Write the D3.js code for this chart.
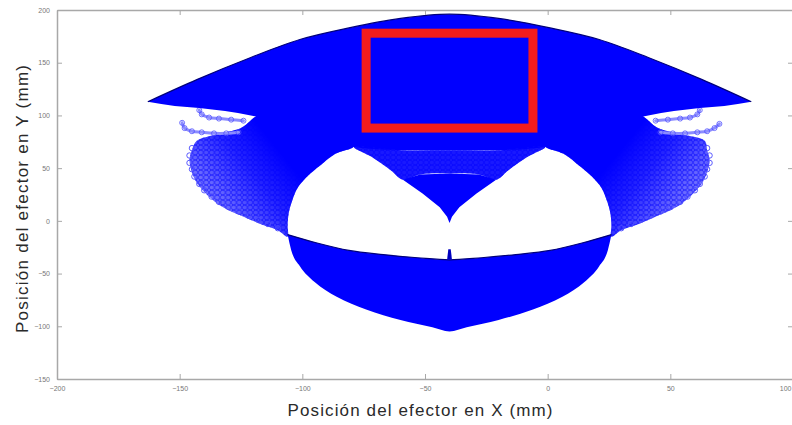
<!DOCTYPE html>
<html>
<head>
<meta charset="utf-8">
<script src="https://cdn.jsdelivr.net/npm/d3@7"></script>
<style>
  body { margin: 0; background: #fff; }
  svg { display: block; }
</style>
</head>
<body>
<svg id="chart" width="792" height="425"></svg>
<script>
// tick labels
var xTicks = [-200, -150, -100, -50, 0, 50, 100];
var yTicks = [-150, -100, -50, 0, 50, 100, 150, 200];

// workspace outline (mm)
var capTop = [[-163,113],[-143,134],[-121,155],[-101,172],[-81,183],[-60,192],[-40,196],[-20,192],[1,183],[21,172],[41,155],[63,134],[83,113]];
var capBottom = [[-163,113],[-152,109],[-142,107],[-121,100],[-105,91],[-89,77],[-79,70],[-60,67],[-40,67],[-20,67],[-1,70],[9,77],[25,91],[41,100],[62,107],[72,109],[83,113]];
var centerFringe = [[-79,70],[-72,61],[-64,48],[-59,39],[-52,44],[-40,45],[-28,44],[-21,39],[-16,48],[-8,61],[-1,70],[-20,67],[-40,67],[-60,67]];
var drop = [[-59,39],[-52,44],[-40,45],[-28,44],[-21,39],[-29,26],[-36,13],[-39,4],[-40,-2],[-41,4],[-44,13],[-51,26]];
var crescentTop = [[-106,-13],[-94,-21],[-81,-28],[-67,-32],[-53,-35],[-40,-37],[-27,-35],[-13,-32],[1,-28],[14,-21],[26,-13]];
var crescentBottom = [[-106,-13],[-104.5,-28],[-101,-43],[-95,-58],[-86,-72],[-74,-84],[-60,-94],[-47,-101],[-40,-105],[-33,-101],[-20,-94],[-6,-84],[6,-72],[15,-58],[21,-43],[24.5,-28],[26,-13]];
var spike = [[-41,-37],[-40.5,-27],[-39.5,-27],[-39,-37]];
var fanLeft = [[-125,88],[-135,82],[-143,76],[-145,67],[-146,58],[-145,46],[-143,36],[-138,23],[-135,17],[-130,10],[-123,3],[-116,-4],[-110,-9],[-106,-15],
  [-106,-4],[-105.5,8],[-104,20],[-102,31],[-98,42],[-93,52],[-87,63],[-79,71],[-89,83],[-105,96],[-117,101]];
var fanRight = [[45,88],[55,82],[64,76],[65,67],[66,58],[65,46],[63,36],[58,23],[55,17],[50,10],[43,3],[36,-4],[30,-9],[26,-15],
  [26,-4],[25.5,8],[24,20],[22,31],[18,42],[13,52],[7,63],[-1,71],[9,83],[25,96],[37,101]];
var tendrilsLeft = [
  [[-142,105],[-141,101],[-138,98],[-134,97],[-129,96],[-124,95]],
  [[-149,93],[-148,88],[-145,85],[-141,84],[-136,83],[-131,83],[-126,84]]
];
var tendrilsRight = [
  [[62,105],[61,101],[58,98],[54,97],[49,96],[44,95]],
  [[70,92],[68,88],[65,85],[61,84],[56,83],[51,83],[46,84]]
];
var edgeLeft = [[-145,69],[-146,62],[-146,55],[-145,49],[-144,42],[-142,35],[-140,29],[-137,23],[-134,18],[-130,13],[-126,9],[-122,5],[-118,1],[-114,-3],[-110,-7]];
var edgeRight = [[65,69],[66,62],[66,55],[65,49],[64,42],[62,35],[60,29],[57,23],[54,18],[50,13],[46,9],[42,5],[38,1],[34,-3],[30,-7]];
var redBox = [-74, 88, -6, 178];   // x0, y0, x1, y1

const svg = d3.select('#chart');
const x = d3.scaleLinear().domain([-200, 100]).range([57, 793]);
const y = d3.scaleLinear().domain([-150, 200]).range([379, 10]);
const blue = '#0000ff';

const defs = svg.append('defs');
const pat = defs.append('pattern')
    .attr('id', 'rings').attr('patternUnits', 'userSpaceOnUse')
    .attr('width', 5.5).attr('height', 5);
pat.append('circle').attr('cx', 2.75).attr('cy', 2.5).attr('r', 2.4)
    .attr('fill', 'none').attr('stroke', '#2b2bff').attr('stroke-width', 0.7);

function grad(id, x1, y1, x2, y2) {
    const g = defs.append('linearGradient').attr('id', id)
        .attr('x1', x1).attr('y1', y1).attr('x2', x2).attr('y2', y2);
    [[0, 0.28], [0.2, 0.5], [0.42, 0.82], [0.62, 1], [1, 1]].forEach(function (s) {
        g.append('stop').attr('offset', s[0]).attr('stop-color', blue).attr('stop-opacity', s[1]);
    });
}
grad('fadeL', 0, 0.8, 1, 0.2);
grad('fadeR', 1, 0.8, 0, 0.2);

const open = d3.line().x(d => x(d[0])).y(d => y(d[1])).curve(d3.curveMonotoneX);
const closed = d3.line().x(d => x(d[0])).y(d => y(d[1])).curve(d3.curveCatmullRomClosed.alpha(0.5));
const straight = d3.line().x(d => x(d[0])).y(d => y(d[1])).curve(d3.curveLinearClosed);
const strand = d3.line().x(d => x(d[0])).y(d => y(d[1])).curve(d3.curveCatmullRom.alpha(0.5));

function joined(a, b) {
    return open(a) + open(b.slice().reverse()).replace(/^M/, 'L') + 'Z';
}

const plot = svg.append('g');

// side fans: ring texture under a fading fill
[[fanLeft, 'fadeL'], [fanRight, 'fadeR']].forEach(function (f) {
    plot.append('path').attr('d', closed(f[0])).attr('fill', 'rgba(0,0,255,0.2)');
    plot.append('path').attr('d', closed(f[0])).attr('fill', 'url(#rings)');
    plot.append('path').attr('d', closed(f[0])).attr('fill', 'url(#' + f[1] + ')');
});

// outer ring markers and tendrils
tendrilsLeft.concat(tendrilsRight).forEach(function (t) {
    plot.append('path').attr('d', strand(t)).attr('fill', 'none')
        .attr('stroke', '#8c8cff').attr('stroke-width', 3).attr('stroke-linecap', 'round');
    plot.selectAll(null).data(t).enter().append('circle')
        .attr('cx', d => x(d[0])).attr('cy', d => y(d[1])).attr('r', 2.5)
        .attr('fill', 'none').attr('stroke', '#5050ff').attr('stroke-width', 0.8);
});
plot.selectAll(null).data(edgeLeft.concat(edgeRight)).enter().append('circle')
    .attr('cx', d => x(d[0])).attr('cy', d => y(d[1])).attr('r', 2.7)
    .attr('fill', 'none').attr('stroke', '#4a4aff').attr('stroke-width', 0.9);

// dense body
plot.append('path').attr('d', joined(capTop, capBottom)).attr('fill', blue);
plot.append('path').attr('d', open(capTop)).attr('fill', 'none')
    .attr('stroke', '#00007a').attr('stroke-width', 1.2);
plot.append('path').attr('d', closed(centerFringe)).attr('fill', 'url(#rings)');
plot.append('path').attr('d', closed(centerFringe)).attr('fill', 'rgba(0,0,255,0.9)');
plot.append('path').attr('d', straight(drop)).attr('fill', blue);
plot.append('path').attr('d', joined(crescentTop, crescentBottom)).attr('fill', blue);
plot.append('path').attr('d', open(crescentTop)).attr('fill', 'none')
    .attr('stroke', '#00007a').attr('stroke-width', 1.2);
plot.append('path').attr('d', straight(spike)).attr('fill', '#0000c0');

// highlighted region
plot.append('rect')
    .attr('x', x(redBox[0])).attr('y', y(redBox[3]))
    .attr('width', x(redBox[2]) - x(redBox[0]))
    .attr('height', y(redBox[1]) - y(redBox[3]))
    .attr('fill', 'none').attr('stroke', '#f21c1c').attr('stroke-width', 9);

// axes, box style with inward ticks
function styleAxis(g) {
    g.select('.domain').attr('stroke', '#a8a8a8').attr('stroke-width', 1.5);
    g.selectAll('.tick line').attr('stroke', '#a8a8a8');
    g.selectAll('text').attr('fill', '#777').style('font-size', '7px')
        .style('font-family', 'Liberation Sans, Arial, sans-serif');
}
const xAxis = svg.append('g').attr('transform', 'translate(0,' + y(-150) + ')')
    .call(d3.axisBottom(x).tickValues(xTicks).tickSizeInner(-5).tickSizeOuter(0).tickPadding(7))
    .call(styleAxis);
// last label sits on the page edge
xAxis.selectAll('.tick').filter(d => d === 100).select('text')
    .attr('text-anchor', 'end').attr('x', -2);
svg.append('g').attr('transform', 'translate(0,' + y(200) + ')')
    .call(d3.axisTop(x).tickValues(xTicks).tickSizeInner(-5).tickSizeOuter(0).tickFormat(''))
    .call(styleAxis);
svg.append('g').attr('transform', 'translate(' + x(-200) + ',0)')
    .call(d3.axisLeft(y).tickValues(yTicks).tickSizeInner(-5).tickSizeOuter(0).tickPadding(7))
    .call(styleAxis);
svg.append('g').attr('transform', 'translate(' + x(100) + ',0)')
    .call(d3.axisRight(y).tickValues(yTicks).tickSizeInner(-5).tickSizeOuter(0).tickFormat(''))
    .call(styleAxis);

svg.append('text')
    .attr('x', 420).attr('y', 416)
    .attr('text-anchor', 'middle')
    .attr('textLength', 265)
    .style('font-family', 'Liberation Sans, Arial, sans-serif')
    .style('font-size', '17px').attr('fill', '#2a2a2a')
    .text('Posición del efector en X (mm)');

svg.append('text')
    .attr('transform', 'translate(28,199) rotate(-90)')
    .attr('text-anchor', 'middle')
    .attr('textLength', 268)
    .style('font-family', 'Liberation Sans, Arial, sans-serif')
    .style('font-size', '17px').attr('fill', '#2a2a2a')
    .text('Posición del efector en Y (mm)');
</script>
</body>
</html>
